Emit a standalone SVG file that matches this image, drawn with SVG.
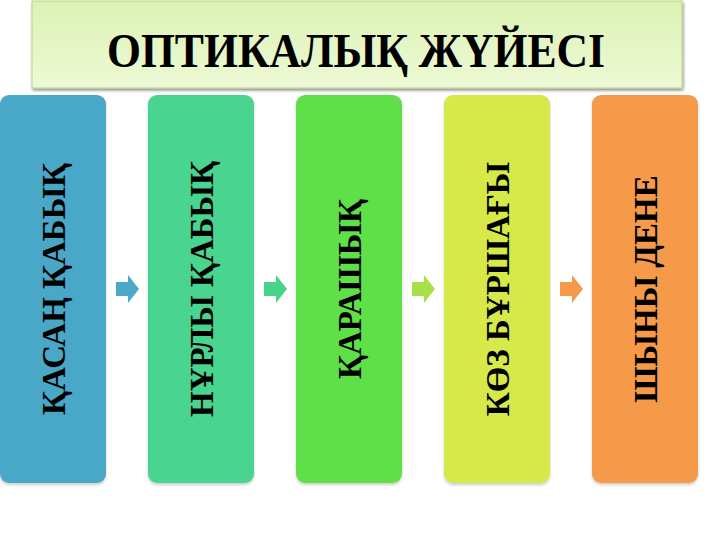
<svg xmlns="http://www.w3.org/2000/svg" width="720" height="540" viewBox="0 0 720 540">
<defs>
<linearGradient id="tg" x1="0" y1="0" x2="0" y2="1">
<stop offset="0" stop-color="#dcf2b2"/>
<stop offset="1" stop-color="#eef9d6"/>
</linearGradient>
<filter id="sh" x="-10%" y="-10%" width="120%" height="130%">
<feGaussianBlur in="SourceAlpha" stdDeviation="1.5"/>
<feOffset dx="1" dy="2"/>
<feComponentTransfer><feFuncA type="linear" slope="0.45"/></feComponentTransfer>
<feMerge><feMergeNode/><feMergeNode in="SourceGraphic"/></feMerge>
</filter>
<filter id="bs" x="-10%" y="-5%" width="120%" height="110%">
<feGaussianBlur in="SourceAlpha" stdDeviation="1.5"/>
<feOffset dx="0" dy="2"/>
<feComponentTransfer><feFuncA type="linear" slope="0.2"/></feComponentTransfer>
<feMerge><feMergeNode/><feMergeNode in="SourceGraphic"/></feMerge>
</filter>
</defs>
<style>
.t{font-family:"Liberation Serif","Times New Roman",serif;font-weight:bold;fill:#000;text-anchor:middle}
.bt{font-size:33px}
.tt{font-size:48px}
</style>
<rect width="720" height="540" fill="#fff"/>
<g id="title">
<rect x="32" y="1" width="650" height="87" fill="url(#tg)" stroke="#b5d58a" stroke-width="1" filter="url(#sh)"/>
<text class="t tt" x="356" y="67" textLength="498" lengthAdjust="spacingAndGlyphs">ОПТИКАЛЫҚ ЖҮЙЕСІ</text>
</g>
<g id="node1">
<rect x="0" y="95" width="106" height="388" rx="9" fill="#4aa8c8" filter="url(#bs)"/>
<text class="t bt" transform="translate(65,289) rotate(-90)">ҚАСАҢ ҚАБЫҚ</text>
</g>
<g id="node2">
<rect x="148" y="95" width="106" height="388" rx="9" fill="#48d490" filter="url(#bs)"/>
<text class="t bt" transform="translate(213,289) rotate(-90)">НҰРЛЫ ҚАБЫҚ</text>
</g>
<g id="node3">
<rect x="296" y="95" width="106" height="388" rx="9" fill="#5fe048" filter="url(#bs)"/>
<text class="t bt" transform="translate(361,289) rotate(-90)">ҚАРАШЫҚ</text>
</g>
<g id="node4">
<rect x="444" y="95" width="106" height="388" rx="9" fill="#d5ea48" filter="url(#bs)"/>
<text class="t bt" transform="translate(509,289) rotate(-90)">КӨЗ БҰРШАҒЫ</text>
</g>
<g id="node5">
<rect x="592" y="95" width="106" height="388" rx="9" fill="#f59a48" filter="url(#bs)"/>
<text class="t bt" transform="translate(657,289) rotate(-90)">ШЫНЫ ДЕНЕ</text>
</g>
<g id="connectors">
<path d="M116,282 h12 v-7 l11,14 l-11,14 v-7 h-12 z" fill="#4aa8c8"/>
<path d="M264,282 h12 v-7 l11,14 l-11,14 v-7 h-12 z" fill="#48d488"/>
<path d="M412,282 h12 v-7 l11,14 l-11,14 v-7 h-12 z" fill="#a8e048"/>
<path d="M560,282 h12 v-7 l11,14 l-11,14 v-7 h-12 z" fill="#f59a48"/>
</g>
</svg>
